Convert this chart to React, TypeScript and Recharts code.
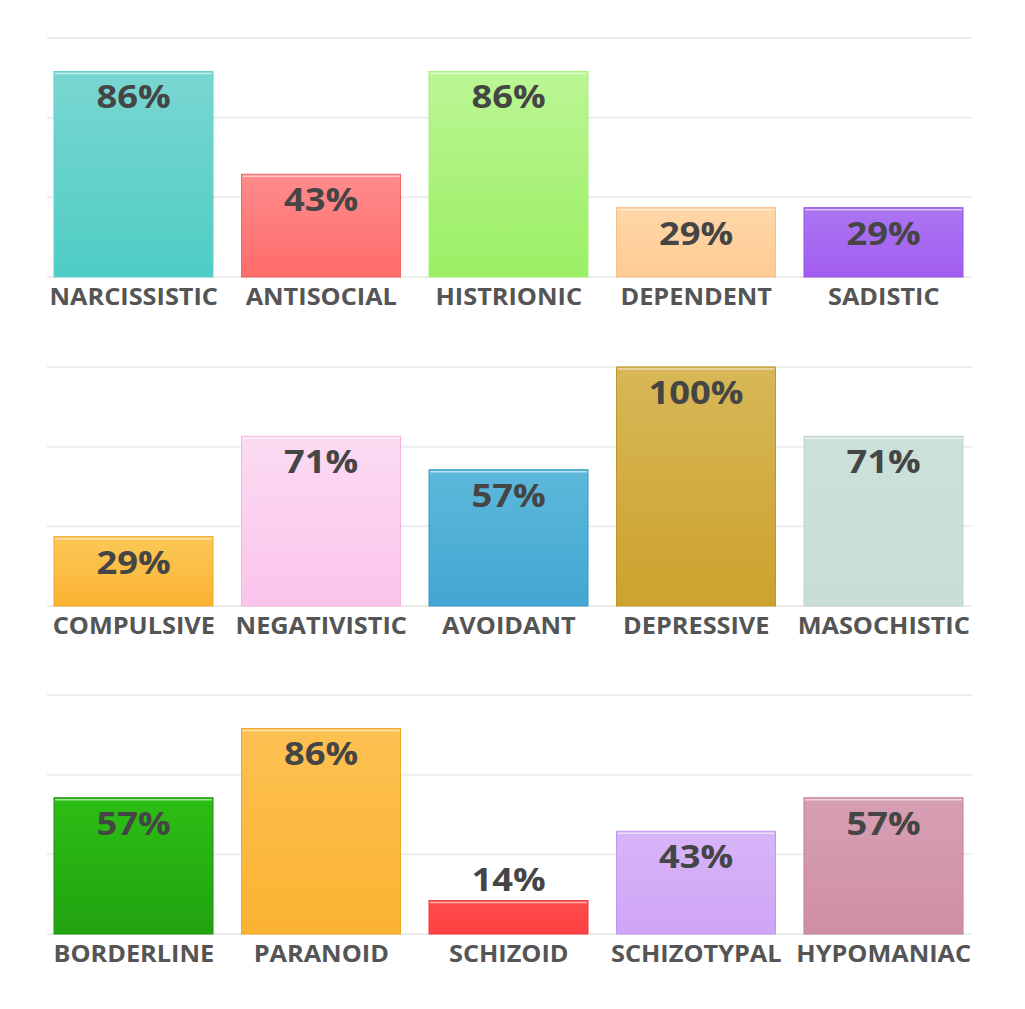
import React from "react";
import { BarChart, Bar, XAxis, YAxis, CartesianGrid, Cell, LabelList } from "recharts";

// three panels of five scales each, values in percent
const row1Categories = ["NARCISSISTIC", "ANTISOCIAL", "HISTRIONIC", "DEPENDENT", "SADISTIC"];
const row1Values = [86, 43, 86, 29, 29];

const row2Categories = ["COMPULSIVE", "NEGATIVISTIC", "AVOIDANT", "DEPRESSIVE", "MASOCHISTIC"];
const row2Values = [29, 71, 57, 100, 71];

const row3Categories = ["BORDERLINE", "PARANOID", "SCHIZOID", "SCHIZOTYPAL", "HYPOMANIAC"];
const row3Values = [57, 86, 14, 43, 57];

const yTicks = [0, 100 / 3, 200 / 3, 100];

// [top, bottom, edge]
const row1Colors = [
  ["#7ad6d1", "#4ecdc4", "#62d2ca"],
  ["#ff8c8c", "#ff6b6b", "#f06464"],
  ["#bbf694", "#9bef64", "#a6f07a"],
  ["#ffd7a8", "#ffcb94", "#f5c08a"],
  ["#ab76f2", "#a25cf0", "#9655e0"],
];
const row2Colors = [
  ["#fcc858", "#fbb232", "#f0a82c"],
  ["#fcdbf2", "#fbc4eb", "#f4b6e0"],
  ["#5db8da", "#42a7d3", "#3a98c2"],
  ["#d7b757", "#cda22d", "#bf9526"],
  ["#cce1d9", "#c8ded5", "#bfd6cc"],
];
const row3Colors = [
  ["#2cbe14", "#22a311", "#1d900e"],
  ["#fdc152", "#fbb232", "#f0a82c"],
  ["#ff4d4d", "#ff4040", "#f03a3a"],
  ["#d7b5f9", "#cfa5f6", "#c295ee"],
  ["#d79fb3", "#cf8fa6", "#c07f96"],
];

const FONT = "'Open Sans', sans-serif";

function BarShape(props: any) {
  const { x, y, width, height, fill, stroke } = props;
  if (height <= 0) return null;
  return (
    <g>
      <rect x={x} y={y} width={width} height={height} fill={fill} stroke={stroke} strokeWidth={1} />
      <line
        x1={x + 1}
        x2={x + width - 1}
        y1={y + 2}
        y2={y + 2}
        stroke="rgba(255,255,255,0.55)"
        strokeWidth={1.5}
      />
    </g>
  );
}

// the source art is a bit wider than the font, hence the x-stretch
function ValueLabel(props: any) {
  const { x, y, width, height, value } = props;
  const inside = height > 45;
  const cx = x + width / 2;
  const cy = inside ? y + 24 : y - 22;
  return (
    <text
      transform={`translate(${cx},${cy}) scale(1.1,1)`}
      textAnchor="middle"
      dominantBaseline="central"
      fontFamily={FONT}
      fontWeight={700}
      fontSize={33}
      fill="#454545"
    >
      {value}%
    </text>
  );
}

function CategoryTick(props: any) {
  const { x, y, payload } = props;
  return (
    <text
      transform={`translate(${x},${y + 11}) scale(1.1,1)`}
      textAnchor="middle"
      dominantBaseline="central"
      fontFamily={FONT}
      fontWeight={700}
      fontSize={23}
      fill="#555555"
    >
      {payload.value}
    </text>
  );
}

function GridLine(props: any) {
  const { x1, x2, y1, y2 } = props;
  return <line x1={x1 + 7} x2={x2 - 5.5} y1={y1} y2={y2} stroke="#ececec" strokeWidth={2} />;
}

interface PanelProps {
  id: string;
  categories: string[];
  values: number[];
  colors: string[][];
  top: number;
}

function Panel({ id, categories, values, colors, top }: PanelProps) {
  const data = categories.map((name, i) => ({ name, value: values[i] }));
  return (
    <div style={{ position: "absolute", left: 0, top }}>
      <BarChart
        width={1025}
        height={328}
        data={data}
        margin={{ top: 38, right: 47.5, left: 40, bottom: 0 }}
      >
        <defs>
          {colors.map((c, i) => (
            <linearGradient key={i} id={`${id}-g${i}`} x1="0" y1="0" x2="0" y2="1">
              <stop offset="0%" stopColor={c[0]} />
              <stop offset="100%" stopColor={c[1]} />
            </linearGradient>
          ))}
        </defs>
        <CartesianGrid vertical={false} horizontal={(p: any) => <GridLine key={p.key} {...p} />} />
        <XAxis
          dataKey="name"
          axisLine={false}
          tickLine={false}
          height={51}
          interval={0}
          tick={<CategoryTick />}
        />
        <YAxis hide domain={[0, 100]} ticks={yTicks} />
        <Bar dataKey="value" barSize={159} isAnimationActive={false} shape={<BarShape />}>
          {data.map((_, i) => (
            <Cell key={i} fill={`url(#${id}-g${i})`} stroke={colors[i][2]} />
          ))}
          <LabelList dataKey="value" content={<ValueLabel />} />
        </Bar>
      </BarChart>
    </div>
  );
}

export default function App() {
  return (
    <div
      style={{
        position: "absolute",
        left: 0,
        top: 0,
        width: 1025,
        height: 1009,
        background: "#ffffff",
        fontFamily: FONT,
      }}
    >
      <Panel id="r1" categories={row1Categories} values={row1Values} colors={row1Colors} top={0} />
      <Panel id="r2" categories={row2Categories} values={row2Values} colors={row2Colors} top={329} />
      <Panel id="r3" categories={row3Categories} values={row3Values} colors={row3Colors} top={657} />
    </div>
  );
}
